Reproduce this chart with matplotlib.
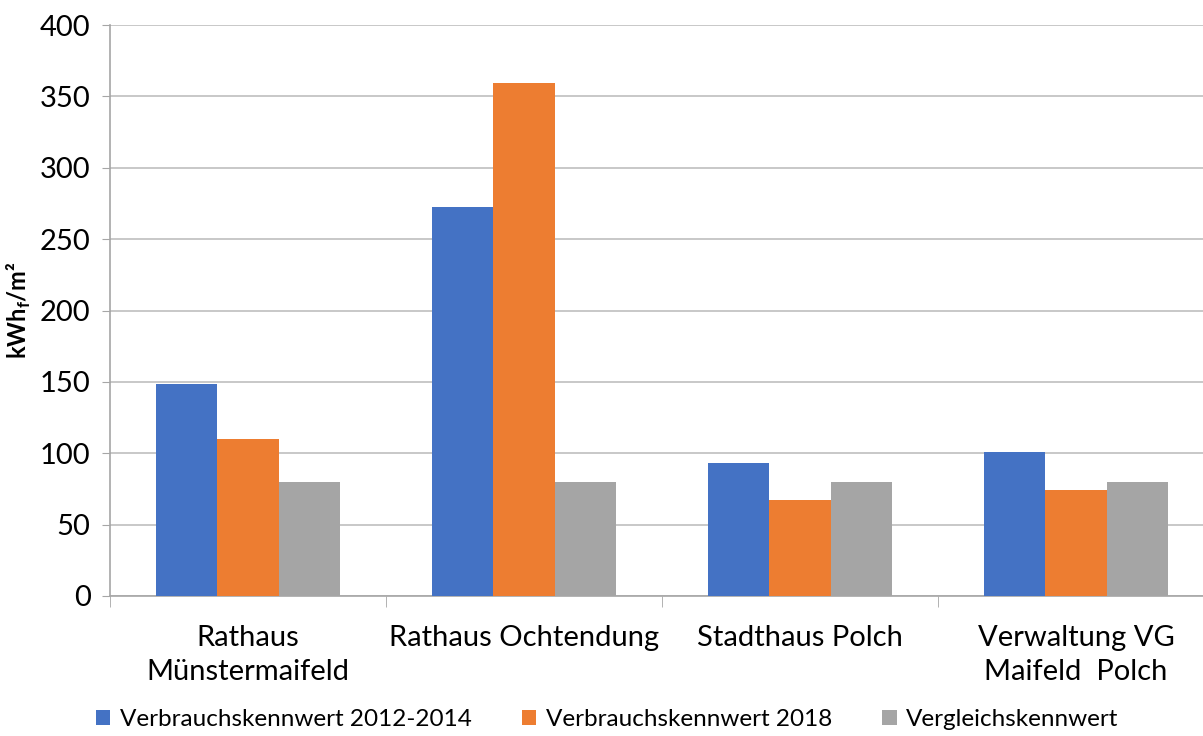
import numpy as np
import matplotlib
matplotlib.use("Agg")
import matplotlib.pyplot as plt

plt.rcParams['font.family'] = ['Lato', 'DejaVu Sans']
plt.rcParams['mathtext.fontset'] = 'custom'
plt.rcParams['mathtext.rm'] = 'Lato'
plt.rcParams['mathtext.bf'] = 'Lato:bold'

# data
categories = ["Rathaus\nMünstermaifeld", "Rathaus Ochtendung",
              "Stadthaus Polch", "Verwaltung VG\nMaifeld  Polch"]
kw_2012_2014 = [148.5, 272.5, 93, 101]
kw_2018 = [110, 359.5, 67, 74]
vergleich = [80, 80, 80, 80]
series_names = ["Verbrauchskennwert 2012-2014", "Verbrauchskennwert 2018",
                "Vergleichskennwert"]
colors = ["#4472C4", "#ED7D31", "#A5A5A5"]

fig = plt.figure(figsize=(12.03, 7.36), dpi=100)
ax = fig.add_axes([110/1203, 140/736, 1104/1203, 571/736])

x = np.arange(len(categories))
w = 0.222
for i, (vals, name, c) in enumerate(zip([kw_2012_2014, kw_2018, vergleich], series_names, colors)):
    ax.bar(x + (i - 1) * w, vals, w, color=c, label=name, zorder=3)

ax.set_xlim(-0.5, len(categories) - 0.5)
ax.set_ylim(0, 400)
ax.set_yticks(np.arange(0, 401, 50))
ax.yaxis.grid(True, color="#BFBFBF", linewidth=1.2, zorder=0)
ax.tick_params(axis='y', labelsize=21, length=6, color="#A6A6A6", pad=8)

ax.set_xticks(x)
ax.set_xticklabels(categories, fontsize=21, linespacing=1.35)
ax.tick_params(axis='x', which='major', length=0, pad=21)
ax.set_xticks(np.arange(-0.5, len(categories), 1.0), minor=True)
ax.tick_params(axis='x', which='minor', length=8, color="#A6A6A6")

for s in ['top', 'right']:
    ax.spines[s].set_visible(False)
for s in ['left', 'bottom']:
    ax.spines[s].set_color("#A6A6A6")
    ax.spines[s].set_linewidth(1.2)

ax.set_ylabel(r"kWh$_\mathbf{f}$/m²", fontsize=17, fontweight='bold', labelpad=5)

fig.legend(loc='center left', bbox_to_anchor=(0.0795, 0.022), ncol=3, frameon=False,
           fontsize=17.5, handlelength=0.6, handleheight=0.6, handletextpad=0.4,
           columnspacing=2.05, borderaxespad=0, borderpad=0)

fig.savefig("out.png", dpi=100)
